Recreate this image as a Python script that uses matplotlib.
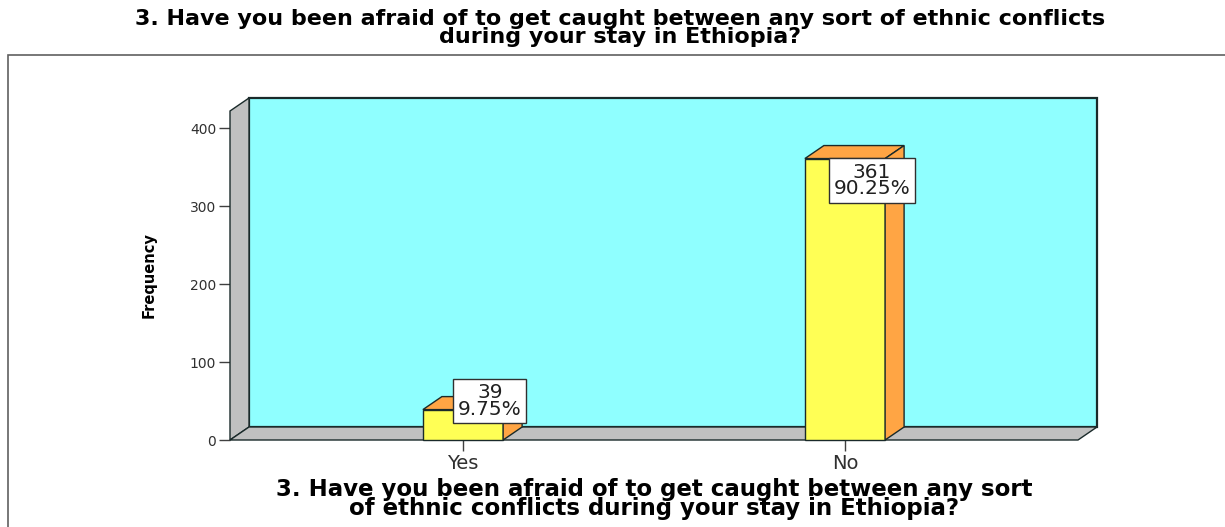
import matplotlib
matplotlib.use('Agg')
import matplotlib.pyplot as plt
from matplotlib.patches import Polygon, Rectangle

# chart data
categories = ['Yes', 'No']
counts = [39, 361]
percents = ['9.75%', '90.25%']
y_ticks = [0, 100, 200, 300, 400]

title = '3. Have you been afraid of to get caught between any sort of ethnic conflicts\nduring your stay in Ethiopia?'
x_title = '3. Have you been afraid of to get caught between any sort\nof ethnic conflicts during your stay in Ethiopia?'

wall_color = '#8FFFFF'
side_color = '#C0C0C0'
bar_front = '#FFFF55'
bar_side = '#FFA544'
edge = '#1A2A2A'

W, H = 1225, 527
fig = plt.figure(figsize=(W / 100, H / 100), dpi=100)
plt.rcParams['font.family'] = 'DejaVu Sans'

# outer frame (runs off right and bottom edge)
fig.add_artist(Rectangle((8 / W, -0.1), 1.2, 1.1 - 55 / H, transform=fig.transFigure,
                         fill=False, edgecolor='#606060', lw=1.2))

ax = fig.add_axes([230 / W, 87 / H, 848 / W, 329 / H])
ax.set_xlim(-0.61, 1.61)
ax.set_ylim(0, 422)
ax.patch.set_visible(False)
for s in ax.spines.values():
    s.set_visible(False)

xmin, xmax = ax.get_xlim()
ymin, ymax = ax.get_ylim()
depth = (19, 13)  # pixel offset of the back plane

fig.canvas.draw()
inv = ax.transData.inverted()


def back(x, y):
    px, py = ax.transData.transform((x, y))
    return tuple(inv.transform((px + depth[0], py + depth[1])))


def poly(pts, color, z, lw=1.0):
    ax.add_patch(Polygon(pts, closed=True, facecolor=color, edgecolor=edge,
                         lw=lw, clip_on=False, zorder=z, joinstyle='miter'))


# back wall, left wall, floor
poly([back(xmin, 0), back(xmax, 0), back(xmax, ymax), back(xmin, ymax)], wall_color, 1, lw=1.6)
poly([(xmin, 0), (xmin, ymax), back(xmin, ymax), back(xmin, 0)], side_color, 2)
poly([(xmin, 0), (xmax, 0), back(xmax, 0), back(xmin, 0)], side_color, 2)

# bars
bw = 0.21
for i, v in enumerate(counts):
    l, r = i - bw / 2, i + bw / 2
    poly([(l, 0), (r, 0), (r, v), (l, v)], bar_front, 3)
    poly([(l, v), (r, v), back(r, v), back(l, v)], bar_side, 3)
    poly([(r, 0), back(r, 0), back(r, v), (r, v)], bar_side, 3)
    ly = max(v - 28, 50)
    ax.text(i + 0.07, ly, '%d\n%s' % (v, percents[i]), ha='center', va='center',
            fontsize=14.5, color='#202020', linespacing=0.85, zorder=5,
            bbox=dict(boxstyle='square,pad=0.22', facecolor='white', edgecolor='#303030', lw=1))

ax.set_xticks(range(len(categories)))
ax.set_xticklabels(categories, fontsize=14, color='#303030')
ax.set_yticks(y_ticks)
ax.set_yticklabels([str(t) for t in y_ticks], fontsize=10, color='#303030')
ax.tick_params(axis='both', direction='out', length=8, width=1, color='#404040', pad=2)
ax.set_ylabel('Frequency', fontsize=10.5, fontweight='bold', labelpad=24)
ax.set_xlabel(x_title, fontsize=16.5, fontweight='bold', linespacing=0.78, labelpad=4)

fig.text(620 / W, 1 - 28 / H, title, ha='center', va='center', fontsize=16,
         fontweight='bold', linespacing=0.85)

fig.savefig('out.png', dpi=100)
